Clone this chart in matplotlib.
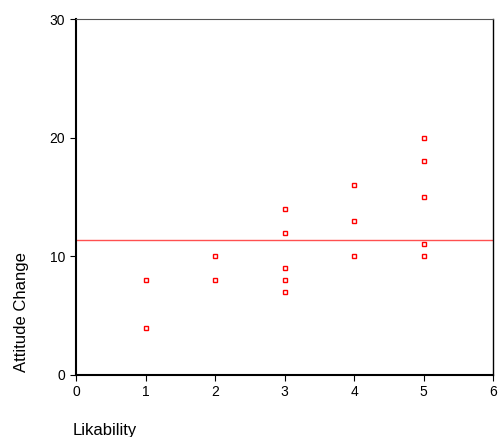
import matplotlib
matplotlib.use("Agg")
import matplotlib.pyplot as plt
import numpy as np

plt.rcParams['font.family'] = ['Liberation Sans', 'DejaVu Sans']

# likability score vs attitude change (one marker per distinct point)
likability = [1, 1, 2, 2, 3, 3, 3, 3, 3, 4, 4, 4, 5, 5, 5, 5, 5]
attitude = [8, 4, 10, 8, 14, 12, 9, 8, 7, 16, 13, 10, 20, 18, 15, 11, 10]
x_ticks = [0, 1, 2, 3, 4, 5, 6]
y_ticks = [0, 10, 20, 30]

mean_att = np.mean(attitude)

fig = plt.figure(figsize=(4.99, 4.37), dpi=100)
ax = fig.add_axes([0.1523, 0.1419, 0.8357, 0.8146])

ax.axhline(mean_att, color='#ff5050', linewidth=1.0, zorder=1)
ax.plot(likability, attitude, linestyle='none', marker='s', markersize=3.2,
        markerfacecolor='white', markeredgecolor='red', markeredgewidth=1.0,
        zorder=2)

ax.set_xlim(0, 6)
ax.set_ylim(0, 30)
ax.set_xticks(x_ticks)
ax.set_yticks(y_ticks)
ax.tick_params(direction='out', length=4, width=0.8, labelsize=10,
               colors='black', pad=4)
ax.tick_params(axis='x', pad=3)
for side in ['left', 'bottom']:
    ax.spines[side].set_linewidth(1.5)
ax.spines['top'].set_color('#555555')
ax.spines['right'].set_linewidth(1.0)

fig.text(0.044, 0.285, 'Attitude Change', rotation=90, fontsize=12,
         ha='center', va='center')
fig.text(0.146, 0.016, 'Likability', fontsize=12, ha='left', va='center')

fig.savefig('out.png', dpi=100)
